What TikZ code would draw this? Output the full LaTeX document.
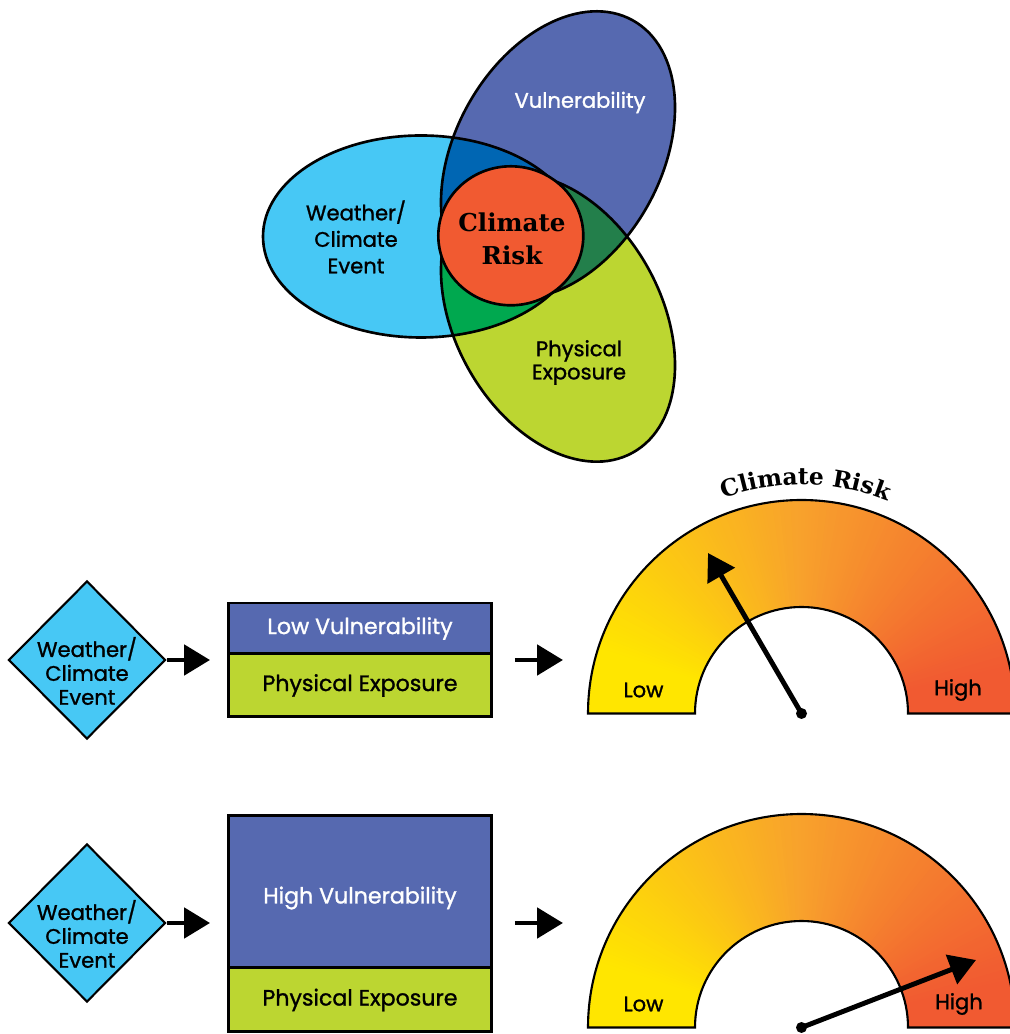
\documentclass[tikz,border=0pt]{standalone}
\usepackage{fontspec}
\usepackage{xcolor}
\usepackage{tikz}
\usetikzlibrary{arrows.meta, positioning, shapes.geometric, calc, decorations.text}
\newfontfamily\lblfont{Poppins}[FakeBold=1.2]
\newfontfamily\riskfont{DejaVu Serif}
\definecolor{wxblue}{HTML}{47C8F5}
\definecolor{vulblue}{HTML}{5669B0}
\definecolor{expgreen}{HTML}{BCD631}
\definecolor{wxvul}{HTML}{0066B3}
\definecolor{wxexp}{HTML}{00A84F}
\definecolor{vulexp}{HTML}{237F4B}
\definecolor{riskred}{HTML}{F15A31}
\definecolor{gyellow}{HTML}{FFE600}
\definecolor{gorange}{HTML}{F8A22C}

% half ring with an angular yellow-orange-red fill
\newcommand{\drawgauge}[1]{%
  \begin{scope}
    \clip ($(#1)+(180:213.5)$) arc[start angle=180, end angle=0, radius=213.5]
      -- ($(#1)+(0:106.5)$) arc[start angle=0, end angle=180, radius=106.5] -- cycle;
    \foreach \a in {0,...,179}{
      \ifnum\a<90
        \pgfmathtruncatemacro\p{max(0,min(100,(\a-12)*100/78))}
        \colorlet{gcol}{gorange!\p!riskred}
      \else
        \pgfmathtruncatemacro\p{max(0,min(100,(\a-90)*100/72))}
        \colorlet{gcol}{gyellow!\p!gorange}
      \fi
      \fill[gcol] ($(#1)+(\a:100)$) -- ($(#1)+(\a:220)$)
        arc[start angle=\a, end angle=\a+1.6, radius=220]
        -- ($(#1)+(\a+1.6:100)$) arc[start angle=\a+1.6, end angle=\a, radius=100] -- cycle;
    }
  \end{scope}
  \draw[gaugeline] ($(#1)+(180:213.5)$) arc[start angle=180, end angle=0, radius=213.5]
    -- ($(#1)+(0:106.5)$) arc[start angle=0, end angle=180, radius=106.5] -- cycle;
}

\begin{document}
\begin{tikzpicture}[x=0.02cm, y=0.02cm,
    outline/.style={draw=black, line width=1.5pt},
    vulrot/.style={rotate around={61:(558,879)}},
    exprot/.style={rotate around={-61:(558,716)}},
    lbl/.style={font=\lblfont\fontsize{12}{15.1}\selectfont, align=center, inner sep=0pt},
    small/.style={lbl, font=\lblfont\fontsize{12}{13.6}\selectfont},
    event/.style={diamond, draw=black, line width=1.2pt, fill=wxblue,
                  minimum width=3.14cm, minimum height=3.16cm, inner sep=0pt},
    part/.style={rectangle, draw=black, line width=1.7pt, minimum width=5.28cm,
                 inner sep=0pt, outer sep=0pt, font=\lblfont\fontsize{12.6}{15}\selectfont},
    vulbox/.style={part, fill=vulblue, text=white},
    expbox/.style={part, fill=expgreen},
    flow/.style={line width=2.8pt, -{Triangle[length=14.7pt, width=17pt]}},
    needle/.style={line width=2.8pt, -{Triangle[length=15pt, width=17.5pt]}},
    pivot/.style={circle, fill=black, inner sep=0pt, minimum size=0.22cm},
    gaugeline/.style={draw=black, line width=1.2pt},
]
\useasboundingbox (0,0) rectangle (1009,1034);

% Venn diagram
\fill[wxblue] (421,797.5) ellipse [x radius=158, y radius=101];
\fill[vulblue, vulrot] (558,879) ellipse [x radius=154, y radius=103];
\fill[expgreen, exprot] (558,716) ellipse [x radius=154, y radius=103];
\begin{scope}
  \clip (421,797.5) ellipse [x radius=158, y radius=101];
  \fill[wxvul, vulrot] (558,879) ellipse [x radius=154, y radius=103];
  \fill[wxexp, exprot] (558,716) ellipse [x radius=154, y radius=103];
\end{scope}
\begin{scope}
  \clip[vulrot] (558,879) ellipse [x radius=154, y radius=103];
  \fill[vulexp, exprot] (558,716) ellipse [x radius=154, y radius=103];
\end{scope}
\draw[outline] (421,797.5) ellipse [x radius=158, y radius=101];
\draw[outline, vulrot] (558,879) ellipse [x radius=154, y radius=103];
\draw[outline, exprot] (558,716) ellipse [x radius=154, y radius=103];
\draw[outline, fill=riskred] (510.8,798.2) ellipse [x radius=72.5, y radius=69.5];

\node[lbl, text=white] (vullbl) at (580,931.5) {Vulnerability};
\node[lbl] (wxlbl) at (356,797) {Weather/\\Climate\\Event};
\node[lbl, font=\lblfont\fontsize{12}{13.2}\selectfont] (explbl) at (579,671.5) {Physical\\Exposure};
\node[align=center, inner sep=0pt, font=\riskfont\bfseries\fontsize{14}{18.4}\selectfont]
  (risklbl) at (512,795) {Climate\\Risk};

% low vulnerability row
\node[event, label={[small, yshift=-0.22cm]center:{Weather/\\Climate\\Event}}] (ev1) at (87,374) {};
\node[vulbox, minimum height=1.02cm] (lowvul) at (360,405.5) {Low Vulnerability};
\node[expbox, minimum height=1.26cm, below=0pt of lowvul] (lowexp) {Physical Exposure};
\coordinate (g1) at (801.5,320.5);
\coordinate (g1w) at ($(g1)+(-213.5,0)$);
\coordinate (tip1) at (708,481);
\draw[flow] (ev1.east) -- ($(ev1.east -| lowexp.west)+(-18,0)$);
\draw[flow] ($(ev1.east -| lowexp.east)+(23,0)$) -- ($(ev1.east -| g1w)+(-25,0)$);
\drawgauge{g1}
\path[decorate, decoration={text along path, text align=center,
    text={|\riskfont\bfseries\fontsize{13.3}{18}\selectfont|Climate Risk}}]
  ($(g1)+(150:229)$) arc[start angle=150, end angle=28, radius=229];
\node[small] (lo1) at (643.5,344) {Low};
\node[small] (hi1) at (958,344) {High};
\draw[needle] (g1) -- (tip1);
\node[pivot] at (g1) {};

% high vulnerability row
\node[event, label={[small, yshift=-0.22cm]center:{Weather/\\Climate\\Event}}] (ev2) at (87,111) {};
\node[vulbox, minimum height=3.06cm, text height=17pt] (highvul) at (360,142.5) {High Vulnerability};
\node[expbox, minimum height=1.28cm, below=0pt of highvul] (highexp) {Physical Exposure};
\coordinate (g2) at (801.5,6.5);
\coordinate (g2w) at ($(g2)+(-213.5,0)$);
\coordinate (tip2) at (976,74);
\draw[flow] (ev2.east) -- ($(ev2.east -| highexp.west)+(-18,0)$);
\draw[flow] ($(ev2.east -| highexp.east)+(23,0)$) -- ($(ev2.east -| g2w)+(-25,0)$);
\drawgauge{g2}
\node[small] (lo2) at (643.5,30) {Low};
\node[small] (hi2) at (959,30) {High};
\draw[needle] (g2) -- (tip2);
\node[pivot] at (g2) {};
\end{tikzpicture}
\end{document}
